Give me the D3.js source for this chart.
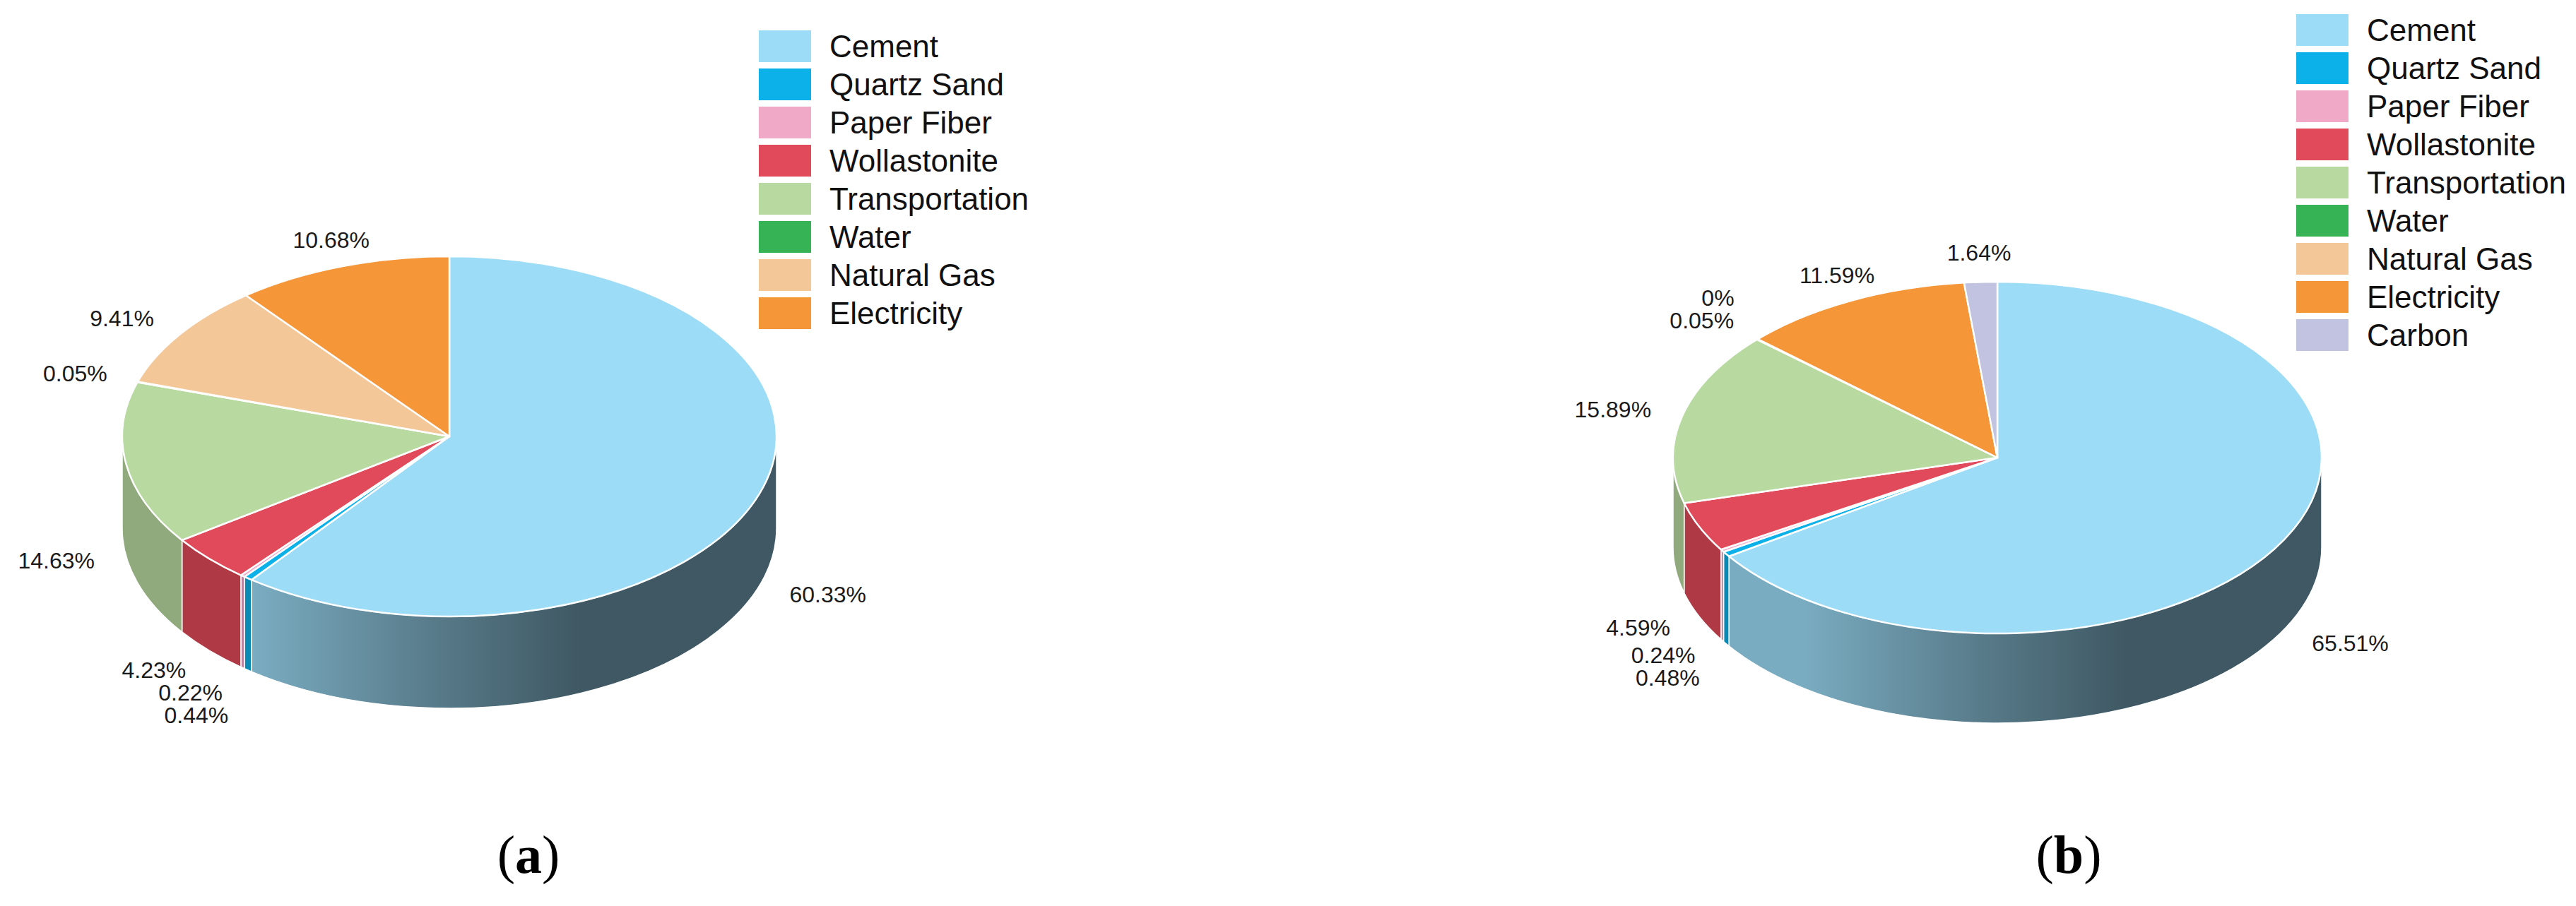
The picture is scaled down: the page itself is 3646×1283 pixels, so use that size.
<!DOCTYPE html>
<html>
<head>
<meta charset="utf-8">
<script src="https://cdn.jsdelivr.net/npm/d3@7"></script>
<style>
  body { margin: 0; background: #fff; }
  text { font-family: "Liberation Sans", Arial, sans-serif; }
</style>
</head>
<body>
<div id="chart"></div>
<script>
// data
const categoriesA = ["Cement", "Quartz Sand", "Paper Fiber", "Wollastonite", "Transportation", "Water", "Natural Gas", "Electricity"];
const valuesA = [60.33, 0.44, 0.22, 4.23, 14.63, 0.05, 9.41, 10.68];

const categoriesB = ["Cement", "Quartz Sand", "Paper Fiber", "Wollastonite", "Transportation", "Water", "Natural Gas", "Electricity", "Carbon"];
const valuesB = [65.51, 0.48, 0.24, 4.59, 15.89, 0.05, 0, 11.59, 1.64];

const colors = ["#9ddcf7", "#0bb1e8", "#f1a9c8", "#e04a5a", "#b8d9a0", "#36b455", "#f4c798", "#f59638", "#c2c3e0"];

const panelLabels = ["a", "b"];

const width = 3646;
const height = 1283;

const svg = d3.select("#chart")
    .append("svg")
    .attr("width", width)
    .attr("height", height);

const defs = svg.append("defs");

const color = d3.scaleOrdinal().domain(categoriesB).range(colors);
const pie = d3.pie().sort(null).value(d => d.value);

function shade(c, k) {
    const r = d3.rgb(c);
    return d3.rgb(r.r * k, r.g * k, r.b * k).formatHex();
}

function drawPie(id, cats, vals, cfg) {
    const {cx, cy, rx, ry, depth} = cfg;
    const data = cats.map((c, i) => ({name: c, value: vals[i]}));
    const arcs = pie(data);
    const g = svg.append("g");

    const pt = (a, dy = 0, ex = 0, ey = 0) =>
        [cx + (rx + ex) * Math.sin(a), cy - (ry + ey) * Math.cos(a) + dy];

    // side walls, only the front half (pi/2 .. 3pi/2) shows
    arcs.forEach((d, i) => {
        const s = Math.max(d.startAngle, Math.PI / 2);
        const e = Math.min(d.endAngle, 3 * Math.PI / 2);
        if (e - s <= 1e-6) return;
        const gid = `side-${id}-${i}`;
        const grad = defs.append("linearGradient")
            .attr("id", gid)
            .attr("gradientUnits", "userSpaceOnUse")
            .attr("x1", cx - 0.6 * rx).attr("x2", cx + 0.4 * rx)
            .attr("y1", 0).attr("y2", 0);
        grad.append("stop").attr("offset", 0).attr("stop-color", shade(color(d.data.name), 0.78));
        grad.append("stop").attr("offset", 0.55).attr("stop-color", shade(color(d.data.name), 0.56));
        grad.append("stop").attr("offset", 1).attr("stop-color", shade(color(d.data.name), 0.40));
        const p0 = pt(s), p1 = pt(e), q1 = pt(e, depth), q0 = pt(s, depth);
        g.append("path")
            .attr("d", `M${p0}A${rx},${ry} 0 0 1 ${p1}L${q1}A${rx},${ry} 0 0 0 ${q0}Z`)
            .attr("fill", `url(#${gid})`)
            .attr("stroke", "#fff")
            .attr("stroke-width", 1.5);
    });

    // top faces
    g.selectAll("path.top")
        .data(arcs)
        .join("path")
        .attr("class", "top")
        .attr("d", d => {
            if (d.endAngle - d.startAngle <= 1e-6) return null;
            const large = d.endAngle - d.startAngle > Math.PI ? 1 : 0;
            return `M${cx},${cy}L${pt(d.startAngle)}A${rx},${ry} 0 ${large} 1 ${pt(d.endAngle)}Z`;
        })
        .attr("fill", d => color(d.data.name))
        .attr("stroke", "#fff")
        .attr("stroke-width", 2.5)
        .attr("stroke-linejoin", "round");

    // percentage labels around the rim
    const labels = arcs.map(d => {
        const a = (d.startAngle + d.endAngle) / 2;
        const lower = Math.cos(a) < 0;
        const [x, y] = pt(a, lower ? depth : 0, 45, 40);
        const sn = Math.sin(a);
        return {
            a, x, y, lower, left: sn < 0,
            anchor: Math.abs(sn) < 0.5 ? "middle" : (sn < 0 ? "end" : "start"),
            text: d.data.value + "%"
        };
    });
    const gap = 32;
    // upper-left: walk upward, lower-left: walk downward
    const ul = labels.filter(l => l.left && !l.lower).sort((p, q) => p.a - q.a);
    for (let i = 1; i < ul.length; i++) ul[i].y = Math.min(ul[i].y, ul[i - 1].y - gap);
    const ll = labels.filter(l => l.left && l.lower).sort((p, q) => q.a - p.a);
    for (let i = 1; i < ll.length; i++) ll[i].y = Math.max(ll[i].y, ll[i - 1].y + gap);

    g.selectAll("text.pct")
        .data(labels)
        .join("text")
        .attr("class", "pct")
        .attr("x", d => d.x)
        .attr("y", d => d.y)
        .attr("dy", "0.35em")
        .attr("text-anchor", d => d.anchor)
        .attr("font-size", 32)
        .attr("fill", "#1a1a1a")
        .text(d => d.text);

    // legend
    const lg = svg.append("g").attr("transform", `translate(${cfg.legendX},${cfg.legendY})`);
    const item = lg.selectAll("g")
        .data(cats)
        .join("g")
        .attr("transform", (d, i) => `translate(0,${i * 54})`);
    item.append("rect")
        .attr("width", 74)
        .attr("height", 45)
        .attr("fill", d => color(d));
    item.append("text")
        .attr("x", 100)
        .attr("y", 22.5)
        .attr("dy", "0.35em")
        .attr("font-size", 44)
        .attr("fill", "#111")
        .text(d => d);

    // panel tag (a)/(b)
    const tag = svg.append("text")
        .attr("x", cfg.tagX)
        .attr("y", 1236)
        .attr("text-anchor", "middle")
        .attr("font-size", 76)
        .attr("fill", "#000")
        .style("font-family", "'Liberation Serif', 'Times New Roman', serif");
    tag.append("tspan").text("(");
    tag.append("tspan").attr("font-weight", "bold").text(cfg.tag);
    tag.append("tspan").text(")");
}

drawPie("a", categoriesA, valuesA, {
    cx: 636, cy: 618, rx: 463, ry: 255, depth: 130,
    legendX: 1074, legendY: 43, tagX: 748, tag: panelLabels[0]
});
drawPie("b", categoriesB, valuesB, {
    cx: 2827, cy: 648, rx: 459, ry: 249, depth: 127,
    legendX: 3250, legendY: 20, tagX: 2928, tag: panelLabels[1]
});
</script>
</body>
</html>
